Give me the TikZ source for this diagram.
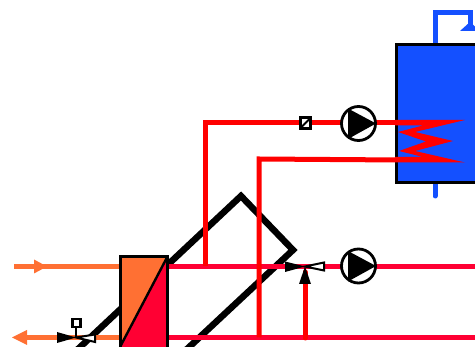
\documentclass[tikz,border=0pt]{standalone}
\definecolor{tankblue}{HTML}{1450FF}
\definecolor{hotred}{HTML}{FF0000}
\definecolor{crimson}{HTML}{FF0033}
\definecolor{warm}{HTML}{FF7033}
\tikzset{
  x=1pt,y=-1pt,
  pipe/.style={line width=5pt,hotred},
  lowpipe/.style={line width=5pt,crimson},
  warmpipe/.style={line width=5pt,warm},
  bluepipe/.style={line width=5pt,tankblue},
  collector/.style={line width=6.5pt,black,line join=miter},
  pumpbody/.style={circle,draw=black,line width=2.8pt,fill=white,minimum size=34pt,inner sep=0pt,outer sep=0pt},
  sensor/.style={draw=black,fill=white,line width=2.6pt,minimum size=10.5pt,inner sep=0pt,outer sep=0pt},
  smallsensor/.style={draw=black,fill=white,line width=2.4pt,minimum size=8pt,inner sep=0pt,outer sep=0pt},
  frame/.style={draw=black,line width=3pt}
}
\begin{document}
\begin{tikzpicture}
\useasboundingbox (0,0) rectangle (475,347);
\clip (0,0) rectangle (475,347);
% collector
\draw[collector] (77,350) -- (241,196) -- (293,250) -- (186,350);
% coordinates
\coordinate (hxTR) at (168,266.5);
\coordinate (hxBR) at (168,337.5);
\coordinate (hxTL) at (120,266.5);
\coordinate (hxBL) at (120,337.5);
\coordinate (e1) at (475,266.5);
\coordinate (e2) at (475,337.5);
\coordinate (up1) at (205.5,266.5);
\coordinate (up2) at (259,337.5);
\coordinate (coil1) at (400,122.5);
\coordinate (coil2) at (400,160);
% pipes
\draw[warmpipe] (14,266.5) -- (hxTL);
\draw[warmpipe] (20,337.5) -- (hxBL);
\fill[warm] (47,266.5) -- (34,259.5) -- (34,273.5) -- cycle;
\fill[warm] (12,337.5) -- (27,330) -- (27,345) -- cycle;
\draw[lowpipe] (hxTR) -- (e1);
\draw[lowpipe] (hxBR) -- (e2);
\draw[pipe,line join=miter] (up1) -- (205.5,122.5) -- (coil1);
\draw[pipe,line join=miter] (up2) -- (259,159) -- (coil2);
\draw[pipe,line cap=round] (305,338) -- (305,272);
% tank
\draw[bluepipe,line cap=round] (435,182) -- (435,196);
\draw[bluepipe,line join=miter] (435,44) -- (435,12.5) -- (470,12.5) -- (470,28);
\fill[tankblue] (470,22) -- (460,31) -- (480,31) -- cycle;
\node[draw=black,fill=tankblue,line width=3pt,minimum width=82pt,minimum height=138pt,inner sep=0pt,outer sep=0pt,anchor=north west] (tank) at (396.5,44.5) {};
% coil
\fill[hotred] (395,120) -- (465,120) -- (415,132) -- (453,141) -- (415,151) -- (465,162.5)
  -- (395,162.5) -- (395,157) -- (423,157) -- (399,151) -- (426,141.5) -- (398,132) -- (423,125.5) -- (395,125.5) -- cycle;
% heat exchanger
\fill[warm] (120,256.5) rectangle (168,350);
\fill[crimson] (168,256.5) -- (168,350) -- (119,350) -- cycle;
\draw[frame] (120,360) -- (120,256.5) -- (167.5,256.5) -- (167.5,360);
\draw[line width=2.4pt] (167.5,256.5) -- (120,347);
% pumps
\node[pumpbody] (pumpA) at (358.5,123.5) {};
\node[pumpbody] (pumpB) at (358.5,266) {};
\fill (348,108.5) -- (376,123.5) -- (348,139) -- cycle;
\fill (348,251) -- (376,266) -- (348,281.5) -- cycle;
% sensor on upper line
\node[sensor] (sens) at (305.5,123) {};
\draw[line width=2pt] (sens.south west) -- (sens.north east);
% three-way valve right
\coordinate (vR) at (305,266.5);
\fill (vR) -- (285,261.5) -- (285,272) -- cycle;
\draw[black,fill=white,line width=2pt] (vR) -- (324,262.5) -- (324,270.5) -- cycle;
\fill (vR) -- (299,284) -- (311,284) -- cycle;
% three-way valve left
\coordinate (vL) at (76,337.5);
\draw[line width=2pt] (vL) -- (76,327);
\node[smallsensor] (act) at (76.5,323) {};
\fill (vL) -- (57,332) -- (57,343) -- cycle;
\draw[black,fill=white,line width=2pt] (vL) -- (95,334.5) -- (95,342) -- cycle;
\end{tikzpicture}
\end{document}
